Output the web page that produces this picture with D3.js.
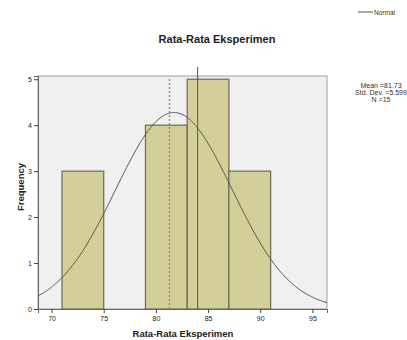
<!DOCTYPE html>
<html>
<head>
<style>
body { margin: 0; background: #fff; }
text { font-family: Arial, "Liberation Sans", sans-serif; }
</style>
</head>
<body>
<script src="https://d3js.org/d3.v7.min.js"></script>
<script>
// histogram bins (lower edge, upper edge) and counts
var binStart = [71, 79, 83, 87];
var binEnd = [75, 83, 87, 91];
var counts = [3, 4, 5, 3];
var xTicks = [70, 75, 80, 85, 90, 95];
var yTicks = [0, 1, 2, 3, 4, 5];
var stats = ["Mean =81.73", "Std. Dev. =5.599", "N =15"];
var mean = 81.73, sd = 5.599, n = 15, binWidth = 4;
var dottedAt = 81.3, solidAt = 84;

var W = 407, H = 340;
var plotL = 38, plotR = 327, plotT = 76, plotB = 309;

var svg = d3.select("body").append("svg").attr("width", W).attr("height", H);

var x = d3.scaleLinear().domain([68.7, 96.4]).range([plotL, plotR]);
var y = d3.scaleLinear().domain([0, 5.07]).range([plotB, plotT]);

// plot background
svg.append("rect")
   .attr("x", plotL).attr("y", plotT)
   .attr("width", plotR - plotL).attr("height", plotB - plotT)
   .attr("fill", "#f0f0f0").attr("stroke", "#a0a0a0").attr("stroke-width", 1);

// bars
svg.selectAll(".bar").data(counts).enter().append("rect")
   .attr("x", function(d, i) { return x(binStart[i]); })
   .attr("y", function(d) { return y(d); })
   .attr("width", function(d, i) { return x(binEnd[i]) - x(binStart[i]); })
   .attr("height", function(d) { return plotB - y(d); })
   .attr("fill", "#d3cf98")
   .attr("stroke", "#6b6b5a").attr("stroke-width", 1.2);

// normal curve
var pts = d3.range(68.7, 96.41, 0.1).map(function(v) {
  var dens = Math.exp(-0.5 * Math.pow((v - mean) / sd, 2)) / (sd * Math.sqrt(2 * Math.PI));
  return [v, dens * n * binWidth];
});
svg.append("path").datum(pts)
   .attr("d", d3.line().x(function(d) { return x(d[0]); }).y(function(d) { return y(d[1]); }))
   .attr("fill", "none").attr("stroke", "#555").attr("stroke-width", 1);

// reference lines
svg.append("line")
   .attr("x1", x(dottedAt)).attr("x2", x(dottedAt))
   .attr("y1", plotT + 3).attr("y2", plotB)
   .attr("stroke", "#888").attr("stroke-width", 1.3).attr("stroke-dasharray", "2,2");
svg.append("line")
   .attr("x1", x(solidAt)).attr("x2", x(solidAt))
   .attr("y1", 67).attr("y2", plotB)
   .attr("stroke", "#555").attr("stroke-width", 1);

// axes
var yAxis = svg.append("g").attr("transform", "translate(" + plotL + ",0)")
   .call(d3.axisLeft(y).tickValues(yTicks).tickSize(4).tickPadding(2).tickFormat(d3.format("d")));
var xAxis = svg.append("g").attr("transform", "translate(0," + plotB + ")")
   .call(d3.axisBottom(x).tickValues(xTicks).tickSize(4).tickPadding(3).tickFormat(d3.format("d")));
[xAxis, yAxis].forEach(function(g) {
  g.select(".domain").attr("stroke", "#666");
  g.selectAll(".tick line").attr("stroke", "#444");
  g.selectAll(".tick text").attr("font-size", 7).attr("fill", "#222")
   .attr("font-family", "Arial, 'Liberation Sans', sans-serif");
});

// titles
svg.append("text").attr("x", 217).attr("y", 43).attr("text-anchor", "middle")
   .attr("font-size", 11).attr("font-weight", "bold").attr("fill", "#222")
   .text("Rata-Rata Eksperimen");
svg.append("text").attr("x", 183).attr("y", 337).attr("text-anchor", "middle")
   .attr("font-size", 9.5).attr("font-weight", "bold").attr("fill", "#222")
   .text("Rata-Rata Eksperimen");
svg.append("text").attr("transform", "translate(24,187) rotate(-90)").attr("text-anchor", "middle")
   .attr("font-size", 9.5).attr("font-weight", "bold").attr("fill", "#222")
   .text("Frequency");

// stats box
svg.selectAll(".stat").data(stats).enter().append("text")
   .attr("x", 381).attr("y", function(d, i) { return 88 + i * 7; })
   .attr("text-anchor", "middle").attr("font-size", 7).attr("fill", "#333")
   .text(function(d) { return d; });

// legend
svg.append("line").attr("x1", 358).attr("x2", 373).attr("y1", 12).attr("y2", 12)
   .attr("stroke", "#555").attr("stroke-width", 1);
svg.append("text").attr("x", 374).attr("y", 14.5).attr("font-size", 6.5).attr("fill", "#333")
   .text("Normal");
</script>
</body>
</html>
